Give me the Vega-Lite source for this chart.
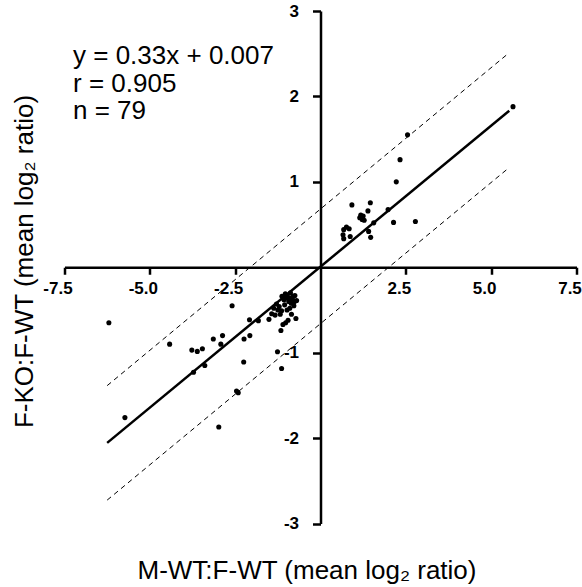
{
  "$schema": "https://vega.github.io/schema/vega-lite/v6.json",
  "width": 512,
  "height": 512.5,
  "autosize": {"type": "none"},
  "padding": {"left": 64.5, "top": 11, "right": 5, "bottom": 63.5},
  "background": "white",
  "config": {"view": {"stroke": null}, "font": "Liberation Sans"},
  "datasets": {
    "pts": [
      {"x": 5.64, "y": 1.88}, {"x": 2.55, "y": 1.55}, {"x": 2.33, "y": 1.26}, {"x": 2.22, "y": 1.0},
      {"x": 0.92, "y": 0.73}, {"x": 1.46, "y": 0.755}, {"x": 1.39, "y": 0.66}, {"x": 1.18, "y": 0.61},
      {"x": 1.25, "y": 0.6}, {"x": 1.22, "y": 0.56}, {"x": 1.28, "y": 0.55}, {"x": 1.15, "y": 0.58},
      {"x": 1.98, "y": 0.675}, {"x": 1.56, "y": 0.52}, {"x": 2.14, "y": 0.525}, {"x": 2.78, "y": 0.535},
      {"x": 0.76, "y": 0.47}, {"x": 0.68, "y": 0.44}, {"x": 0.84, "y": 0.45}, {"x": 0.66, "y": 0.38},
      {"x": 0.68, "y": 0.335}, {"x": 0.87, "y": 0.36}, {"x": 1.41, "y": 0.42}, {"x": 1.47, "y": 0.35},
      {"x": -6.2, "y": -0.65}, {"x": -5.73, "y": -1.76}, {"x": -4.42, "y": -0.9}, {"x": -3.77, "y": -0.97},
      {"x": -3.61, "y": -0.985}, {"x": -3.46, "y": -0.955}, {"x": -3.72, "y": -1.23}, {"x": -3.39, "y": -1.15},
      {"x": -3.14, "y": -0.84}, {"x": -2.87, "y": -0.8}, {"x": -2.92, "y": -0.9}, {"x": -2.59, "y": -0.45},
      {"x": -2.24, "y": -0.84}, {"x": -2.07, "y": -0.8}, {"x": -2.25, "y": -1.11}, {"x": -2.08, "y": -0.615},
      {"x": -1.82, "y": -0.625}, {"x": -2.41, "y": -1.47}, {"x": -2.46, "y": -1.45}, {"x": -2.98, "y": -1.87},
      {"x": -1.51, "y": -0.61}, {"x": -1.43, "y": -0.545}, {"x": -1.37, "y": -0.48}, {"x": -1.29, "y": -0.43},
      {"x": -1.21, "y": -0.46}, {"x": -1.13, "y": -0.34}, {"x": -1.07, "y": -0.38}, {"x": -0.98, "y": -0.33},
      {"x": -0.9, "y": -0.36}, {"x": -0.82, "y": -0.38}, {"x": -0.75, "y": -0.33}, {"x": -0.7, "y": -0.39},
      {"x": -1.05, "y": -0.44}, {"x": -0.98, "y": -0.5}, {"x": -0.9, "y": -0.48}, {"x": -1.14, "y": -0.51},
      {"x": -0.95, "y": -0.62}, {"x": -1.02, "y": -0.65}, {"x": -1.1, "y": -0.67}, {"x": -0.72, "y": -0.6},
      {"x": -1.16, "y": -0.74}, {"x": -1.26, "y": -0.99}, {"x": -1.14, "y": -1.185}, {"x": -0.86, "y": -0.42},
      {"x": -0.78, "y": -0.45}, {"x": -1.0, "y": -0.36}, {"x": -0.93, "y": -0.4}, {"x": -1.18, "y": -0.55},
      {"x": -0.85, "y": -0.55}, {"x": -0.8, "y": -0.34}, {"x": -1.25, "y": -0.5}, {"x": -0.88, "y": -0.3},
      {"x": -1.03, "y": -0.31}, {"x": -0.76, "y": -0.4}, {"x": -1.33, "y": -0.56}
    ],
    "fit": [
      {"x": -6.25, "y": -2.056, "s": "fit"}, {"x": 5.53, "y": 1.832, "s": "fit"}
    ],
    "band": [
      {"x": -6.25, "y": -1.386, "s": "upper"}, {"x": 5.47, "y": 2.492, "s": "upper"},
      {"x": -6.25, "y": -2.726, "s": "lower"}, {"x": 5.51, "y": 1.161, "s": "lower"}
    ],
    "ann": [
      {"x": -7.25, "y": 2.38, "label": "y = 0.33x + 0.007"},
      {"x": -7.25, "y": 2.047, "label": "r = 0.905"},
      {"x": -7.25, "y": 1.74, "label": "n = 79"}
    ]
  },
  "layer": [
    {
      "data": {"name": "band"},
      "mark": {"type": "line", "color": "black", "strokeWidth": 1, "strokeDash": [5, 4]},
      "encoding": {
        "x": {"field": "x", "type": "quantitative", "scale": {"domain": [-7.5, 7.5], "nice": false, "zero": false},
          "axis": {
            "values": [-7.5, -5, -2.5, 2.5, 5, 7.5], "labelExpr": "replace(format(datum.value, '.1f'), '−', '-')", "offset": -256.25,
            "grid": false, "domainColor": "black", "domainWidth": 2.5, "tickColor": "black", "tickWidth": 2.5, "tickSize": 7,
            "labelFont": "Liberation Sans", "labelFontWeight": "bold", "labelFontSize": 17, "labelColor": "black",
            "labelPadding": 6, "labelOffset": -7, "labelFlush": false, "labelOverlap": false,
            "title": "M-WT:F-WT (mean log₂ ratio)", "titleFont": "Liberation Sans", "titleFontSize": 26, "titleFontWeight": "normal",
            "titleColor": "black", "titleX": 242, "titleY": 310.75, "titleAlign": "center", "titleBaseline": "alphabetic", "titleAnchor": null
          }},
        "y": {"field": "y", "type": "quantitative", "scale": {"domain": [-3, 3], "nice": false, "zero": false},
          "axis": {
            "values": [-3, -2, -1, 1, 2, 3], "labelExpr": "replace(format(datum.value, 'd'), '−', '-')", "offset": -256,
            "grid": false, "domainColor": "black", "domainWidth": 2.5, "tickColor": "black", "tickWidth": 2.5, "tickSize": 8,
            "labelFont": "Liberation Sans", "labelFontWeight": "bold", "labelFontSize": 17, "labelColor": "black",
            "labelPadding": 14, "labelFlush": false, "labelOverlap": false,
            "title": "F-KO:F-WT (mean log₂ ratio)", "titleFont": "Liberation Sans", "titleFontSize": 26, "titleFontWeight": "normal",
            "titleColor": "black", "titleX": -287.7, "titleY": 250, "titleAngle": 270, "titleAlign": "center", "titleBaseline": "alphabetic", "titleAnchor": null
          }},
        "detail": {"field": "s"}
      }
    },
    {
      "data": {"name": "fit"},
      "mark": {"type": "line", "color": "black", "strokeWidth": 2.5},
      "encoding": {
        "x": {"field": "x", "type": "quantitative"},
        "y": {"field": "y", "type": "quantitative"}
      }
    },
    {
      "data": {"name": "pts"},
      "mark": {"type": "circle", "color": "black", "opacity": 1, "size": 26},
      "encoding": {
        "x": {"field": "x", "type": "quantitative"},
        "y": {"field": "y", "type": "quantitative"}
      }
    },
    {
      "data": {"name": "ann"},
      "mark": {"type": "text", "align": "left", "baseline": "alphabetic", "fontSize": 26, "font": "Liberation Sans", "color": "black"},
      "encoding": {
        "x": {"field": "x", "type": "quantitative"},
        "y": {"field": "y", "type": "quantitative"},
        "text": {"field": "label"}
      }
    }
  ]
}
